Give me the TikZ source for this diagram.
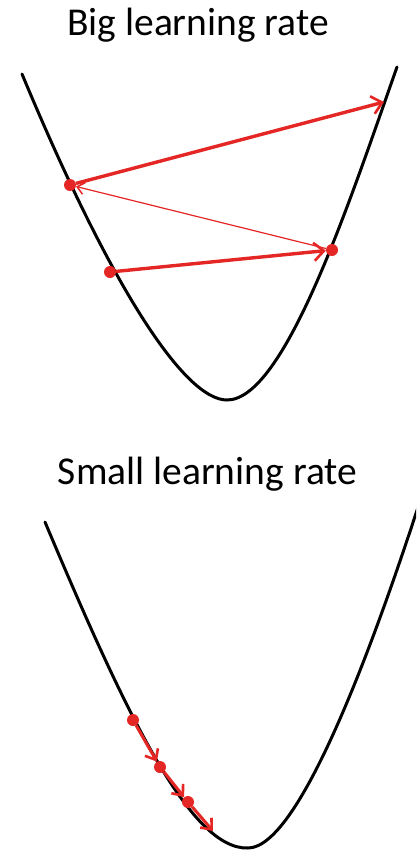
\documentclass[tikz,border=0pt]{standalone}
\usepackage{fontspec}
\setmainfont{Carlito}
\usetikzlibrary{arrows.meta}
\definecolor{arrred}{RGB}{228,38,36}
\tikzset{
  curve/.style={line width=3pt, black, line cap=round},
  dot/.style={circle, fill=arrred, inner sep=0pt, minimum size=12pt},
  thickarr/.style={line width=3.4pt, arrred, -{Straight Barb[length=10pt,width=18pt,line width=2.6pt]}},
  thinarr/.style={line width=1.2pt, arrred, -{Straight Barb[length=7pt,width=12pt,line width=1.5pt]}},
  smallarr/.style={line width=3pt, arrred, -{Straight Barb[length=9pt,width=15pt,line width=2.6pt]}},
  title/.style={font=\fontsize{39.5}{44}\selectfont, anchor=base, inner sep=0pt}
}
\begin{document}
\begin{tikzpicture}[x=1pt,y=-1pt]
\useasboundingbox[fill=white] (0,0) rectangle (416,851);
\clip (0,0) rectangle (416,851);
% titles
\node[title] (t1) at (198,36) {Big learning rate};
\node[title] (t2) at (207.5,484) {Small learning rate};
% top curve
\draw[curve] (22,74) .. controls (112,290) and (185,400) .. (227,400)
  .. controls (285,400) and (350,200) .. (397,67);
% bottom curve
\draw[curve] (45,522) .. controls (125,712) and (190,850) .. (248,848)
  .. controls (300,848) and (375,640) .. (422,495);
% top dots
\node[dot] (A) at (70,185) {};
\node[dot] (B) at (332,250) {};
\node[dot] (C) at (110,272) {};
\coordinate (D) at (384,102);
\draw[thickarr] (C) -- (B);
\draw[thinarr] (B) -- (A);
\draw[thickarr] (A) -- (D);
% bottom dots
\node[dot] (P1) at (133,720) {};
\node[dot] (P2) at (160,767) {};
\node[dot] (P3) at (188,802) {};
\coordinate (P4) at (213,831);
\draw[smallarr] (P1) -- (P2);
\draw[smallarr] (P2) -- (P3);
\draw[smallarr] (P3) -- (P4);
\end{tikzpicture}
\end{document}
